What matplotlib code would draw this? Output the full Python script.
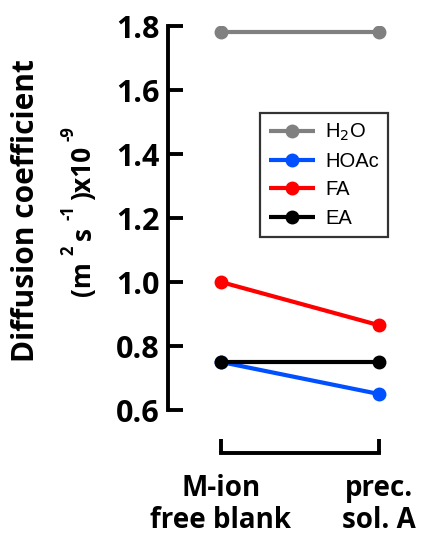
import matplotlib.pyplot as plt

# data
conditions = ['M-ion\nfree blank', 'prec.\nsol. A']
series = ['H$_2$O', 'HOAc', 'FA', 'EA']
h2o = [1.78, 1.78]
hoac = [0.75, 0.65]
fa = [1.00, 0.865]
ea = [0.75, 0.75]
colors = ['#808080', '#0050ff', '#ff0000', '#000000']
yticks = [0.6, 0.8, 1.0, 1.2, 1.4, 1.6, 1.8]

plt.rcParams['font.family'] = ['Open Sans', 'DejaVu Sans']

fig = plt.figure(figsize=(4.26, 5.40), dpi=100)
ax = fig.add_axes([168 / 426, (540 - 410) / 540, 252 / 426, 384 / 540])

x = list(range(len(conditions)))
for vals, name, c in zip([h2o, hoac, fa, ea], series, colors):
    ax.plot(x, vals, color=c, lw=3, marker='o', ms=9, label=name,
            solid_capstyle='butt')

ax.set_xlim(-0.335, 1.26)
ax.set_ylim(0.6, 1.8)

ax.spines['top'].set_visible(False)
ax.spines['right'].set_visible(False)
ax.spines['left'].set_linewidth(2.8)
ax.spines['bottom'].set_linewidth(2.8)
ax.spines['bottom'].set_position(('outward', 31))
ax.spines['bottom'].set_bounds(0, 1)

ax.set_yticks(yticks)
ax.set_yticklabels(['%.1f' % v for v in yticks], fontsize=22, fontweight='bold')
ax.tick_params(axis='y', direction='in', length=11, width=2.8, pad=6)
ax.set_xticks(x)
ax.set_xticklabels(conditions, fontsize=20, fontweight='bold', linespacing=1.15)
ax.tick_params(axis='x', direction='in', length=10, width=2.8, pad=15)

leg = ax.legend(loc='upper left', bbox_to_anchor=((260 - 168) / 252, (410 - 113) / 384),
                frameon=True, fancybox=False, edgecolor='black',
                prop={'family': 'Liberation Sans', 'size': 14.5},
                handlelength=2.3, handletextpad=0.5, labelspacing=0.45,
                borderpad=0.45, borderaxespad=0)
leg.get_frame().set_linewidth(1.6)

# y axis label, with the raised exponents of the original
fig.text(26 / 426, 1 - 211 / 540, 'Diffusion coefficient', rotation=90,
         ha='center', va='center', fontsize=21.5, fontweight='bold')
for txt, xp, yp, fs in [('(m', 83, 279, 19), ('s', 83, 233, 19), (')x10', 83, 173, 19),
                         ('2', 68, 250, 12), ('-1', 68, 213, 12), ('-9', 69, 134, 12)]:
    fig.text(xp / 426, 1 - yp / 540, txt, rotation=90, ha='center', va='center',
             fontsize=fs, fontweight='bold')

fig.savefig('out.png', dpi=100)
